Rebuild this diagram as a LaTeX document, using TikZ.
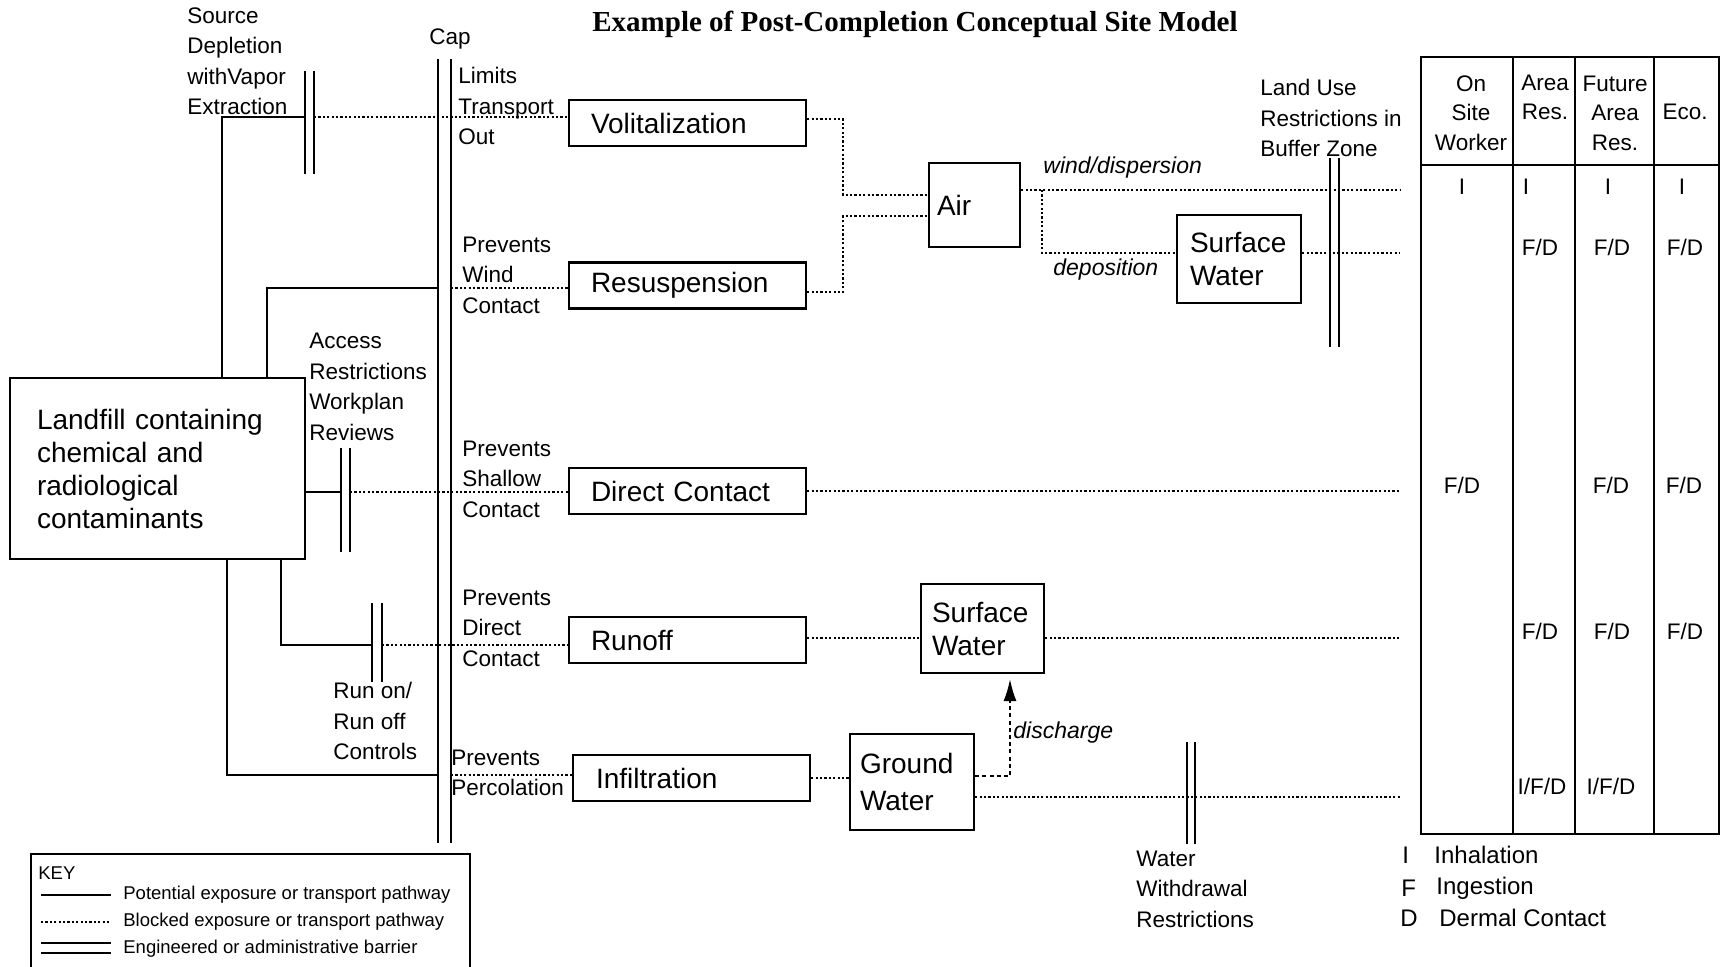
\documentclass[tikz,border=0pt]{standalone}
\usepackage{fontspec}
\setmainfont{Liberation Sans}
\newfontfamily\titlefont{Liberation Serif}
\usetikzlibrary{arrows.meta,calc}
\begin{document}
\begin{tikzpicture}[x=0.5pt,y=-0.5pt,
  sline/.style={line width=1.1pt},
  bline/.style={line width=1.05pt,dash pattern=on 1.1pt off 1.1pt},
  barrier/.style={line width=1.1pt},
  box/.style={draw,line width=1.1pt,inner sep=0pt,align=left,font=\fontsize{14}{16.5}\selectfont},
  lbl/.style={inner sep=0pt,align=left,anchor=west,font=\fontsize{11.25}{15.25}\selectfont},
  ital/.style={inner sep=0pt,anchor=west,font=\fontsize{11.5}{14}\selectfont\itshape},
  tab/.style={inner sep=0pt,align=center,font=\fontsize{11.25}{14.75}\selectfont},
  leg/.style={inner sep=0pt,anchor=west,font=\fontsize{12}{14}\selectfont},
  keyt/.style={inner sep=0pt,anchor=west,font=\fontsize{9.25}{11}\selectfont}]
\useasboundingbox (0,0) rectangle (1729,966);

% title
\node[inner sep=0pt,font=\titlefont\bfseries\fontsize{14.5}{16}\selectfont] (title) at (915,24) {Example of Post-Completion Conceptual Site Model};

% boxes
\node[box,minimum width=147.5pt,minimum height=90.5pt,text width=120.5pt] (landfill) at (157.5,468.5)
  {Landfill containing\\chemical and\\radiological\\contaminants};
\node[box,minimum width=118.5pt,minimum height=23pt,text width=96.5pt] (vol) at (687.5,123) {Volitalization};
\node[box,minimum width=118.5pt,minimum height=23pt,text width=96.5pt] (resus) at (687.5,285.5) {Resuspension};
\node[box,minimum width=118.5pt,minimum height=23pt,text width=96.5pt] (dc) at (687.5,491) {Direct Contact};
\node[box,minimum width=118.5pt,minimum height=23pt,text width=96.5pt] (runoff) at (687.5,640) {Runoff};
\node[box,minimum width=118.5pt,minimum height=23pt,text width=95.5pt] (infil) at (691.5,778) {Infiltration};
\node[box,minimum width=45.5pt,minimum height=42pt,text width=37.5pt] (air) at (974.5,205) {Air};
\node[box,minimum width=62pt,minimum height=44pt,text width=49pt] (sw1) at (1239,259) {Surface\\Water};
\node[box,minimum width=61.5pt,minimum height=44.5pt,text width=50.5pt] (sw2) at (982.5,628.5) {Surface\\Water};
\node[box,minimum width=62pt,minimum height=48pt,text width=52pt,font=\fontsize{14}{18.5}\selectfont] (gw) at (912,782) {Ground\\Water};

% labels
\node[lbl] (srclbl) at (187,61) {Source\\Depletion\\withVapor\\Extraction};
\node[inner sep=0pt,font=\fontsize{11.25}{14}\selectfont] (caplbl) at (450,39) {Cap};
\node[lbl] (limlbl) at (458,106) {Limits\\Transport\\Out};
\node[lbl] (windlbl) at (462,275) {Prevents\\Wind\\Contact};
\node[lbl] (acclbl) at (309,387) {Access\\Restrictions\\Workplan\\Reviews};
\node[lbl] (shallbl) at (462,479) {Prevents\\Shallow\\Contact};
\node[lbl] (dirlbl) at (462,628) {Prevents\\Direct\\Contact};
\node[lbl] (runlbl) at (333,721) {Run on/\\Run off\\Controls};
\node[lbl] (perclbl) at (451,773) {Prevents\\Percolation};
\node[lbl] (landlbl) at (1260,118) {Land Use\\Restrictions in\\Buffer Zone};
\node[lbl] (watlbl) at (1136,889) {Water\\Withdrawal\\Restrictions};
\node[ital] (windd) at (1043,168) {wind/dispersion};
\node[ital] (depo) at (1053,270) {deposition};
\node[ital] (disch) at (1013,733) {discharge};

% barriers
\draw[barrier] (305,71) -- (305,174) (314,71) -- (314,174);
\draw[barrier] (438,59) -- (438,843) (451,59) -- (451,843);
\draw[barrier] (341,448) -- (341,552) (350,448) -- (350,552);
\draw[barrier] (372,603) -- (372,682) (382,603) -- (382,682);
\draw[barrier] (1330,158) -- (1330,347) (1339,158) -- (1339,347);
\draw[barrier] (1187,742) -- (1187,844) (1195,742) -- (1195,844);

% coordinates
\coordinate (srcK) at (222,117); \coordinate (srcL) at (305,117); \coordinate (srcR) at (314,117);
\coordinate (windK) at (267,288); \coordinate (capL2) at (438,288); \coordinate (capR2) at (451,288);
\coordinate (accL) at (341,492); \coordinate (accR) at (350,492);
\coordinate (runK) at (281,645); \coordinate (runL) at (372,645); \coordinate (runR) at (382,645);
\coordinate (infK) at (227,775); \coordinate (capL5) at (438,775); \coordinate (capR5) at (451,775);
\coordinate (v1) at (843,119); \coordinate (v2) at (843,195);
\coordinate (r1) at (843,292); \coordinate (r2) at (843,216);
\coordinate (a1) at (1042,190); \coordinate (a2) at (1042,253);
\coordinate (e1) at (1400,190); \coordinate (e2) at (1400,253); \coordinate (e3) at (1400,491);
\coordinate (e4) at (1400,638); \coordinate (e5) at (1400,797);
\coordinate (d1) at (1010,776);

% left connectors
\draw[sline] (landfill.north -| srcK) -- (srcK) -- (srcL);
\draw[bline] (srcR) -- (vol.west |- srcR);
\draw[sline] (landfill.north -| windK) -- (windK) -- (capL2);
\draw[bline] (capR2) -- (resus.west |- capR2);
\draw[sline] (landfill.east |- accL) -- (accL);
\draw[bline] (accR) -- (dc.west |- accR);
\draw[sline] (landfill.south -| runK) -- (runK) -- (runL);
\draw[bline] (runR) -- (runoff.west |- runR);
\draw[sline] (landfill.south -| infK) -- (infK) -- (capL5);
\draw[bline] (capR5) -- (infil.west |- capR5);

% right connectors
\draw[bline] (vol.east |- v1) -- (v1) -- (v2) -- (air.west |- v2);
\draw[bline] (resus.east |- r1) -- (r1) -- (r2) -- (air.west |- r2);
\draw[bline] (air.east |- a1) -- (e1);
\draw[bline] (a1) -- (a2) -- (sw1.west |- a2);
\draw[bline] (sw1.east |- e2) -- (e2);
\draw[bline] (dc.east |- e3) -- (e3);
\draw[bline] (runoff.east |- e4) -- (sw2.west |- e4);
\draw[bline] (sw2.east |- e4) -- (e4);
\draw[bline] (infil.east) -- (gw.west |- infil.east);
\draw[bline] (gw.east |- e5) -- (e5);
\draw[line width=0.9pt,dash pattern=on 2pt off 1.6pt,-{Latex[length=11pt,width=6.5pt]},shorten >=2.5pt]
  (gw.east |- d1) -- (d1) -- (sw2.south -| d1);

% table
\draw[line width=1.1pt] (1421,57) rectangle (1719,834);
\draw[line width=1.1pt] (1421,165) -- (1719,165);
\draw[line width=1.1pt] (1513,57) -- (1513,834) (1575,57) -- (1575,834) (1654,57) -- (1654,834);
\node[tab] (h1) at (1471,113) {On\\Site\\Worker};
\node[tab] (h2) at (1545,97.5) {Area\\Res.};
\node[tab] (h3) at (1615,113) {Future\\Area\\Res.};
\node[tab] (h4) at (1685,112) {Eco.};
\node[tab] (c11) at (1462,187) {I};
\node[tab] (c12) at (1526,187) {I};
\node[tab] (c13) at (1608,187) {I};
\node[tab] (c14) at (1682,187) {I};
\node[tab] (c22) at (1540,247) {F/D};
\node[tab] (c23) at (1612,247) {F/D};
\node[tab] (c24) at (1685,247) {F/D};
\node[tab] (c31) at (1462,485) {F/D};
\node[tab] (c33) at (1611,485) {F/D};
\node[tab] (c34) at (1684,485) {F/D};
\node[tab] (c42) at (1540,631) {F/D};
\node[tab] (c43) at (1612,631) {F/D};
\node[tab] (c44) at (1685,631) {F/D};
\node[tab] (c52) at (1542,786) {I/F/D};
\node[tab] (c53) at (1611,786) {I/F/D};

% exposure legend
\node[leg] (li) at (1402,855) {I};
\node[leg] (lit) at (1434,855) {Inhalation};
\node[leg] (lf) at (1401,888) {F};
\node[leg] (lft) at (1436,888) {Ingestion};
\node[leg] (ld) at (1400,918) {D};
\node[leg] (ldt) at (1439,918) {Dermal Contact};

% key
\draw[line width=1.1pt] (31,854) rectangle (470,1000);
\node[keyt] (key) at (38,873) {KEY};
\draw[sline] (41,895) -- (111,895);
\draw[bline] (41,922) -- (111,922);
\draw[sline] (41,943) -- (111,943) (41,953) -- (111,953);
\node[keyt] (k1) at (123,895) {Potential exposure or transport pathway};
\node[keyt] (k2) at (123,922) {Blocked exposure or transport pathway};
\node[keyt] (k3) at (123,949) {Engineered or administrative barrier};
\end{tikzpicture}
\end{document}
